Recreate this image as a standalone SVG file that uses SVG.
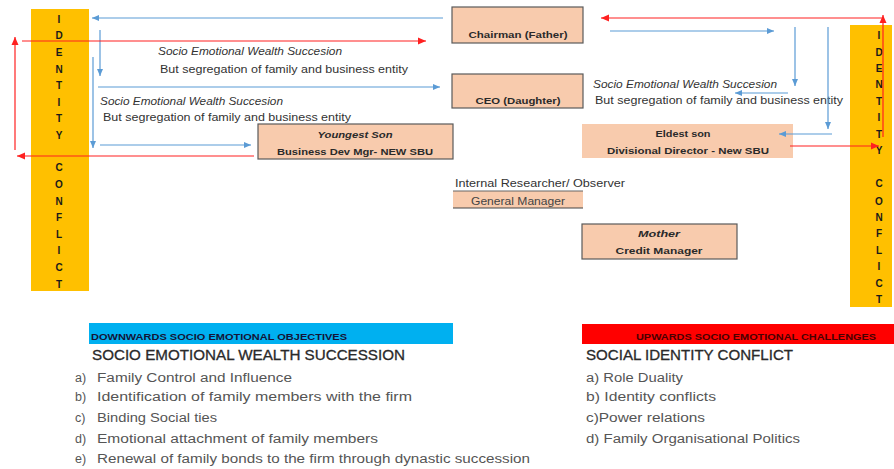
<svg xmlns="http://www.w3.org/2000/svg" width="894" height="469" viewBox="0 0 894 469">
  <defs>
    <marker id="ah-blue" markerWidth="8" markerHeight="8" refX="7" refY="4" orient="auto" markerUnits="userSpaceOnUse">
      <path d="M0,1 L7,4 L0,7 Z" fill="#5B9BD5"/>
    </marker>
    <marker id="ah-red" markerWidth="9" markerHeight="9" refX="8" refY="4.5" orient="auto" markerUnits="userSpaceOnUse">
      <path d="M0,1 L8,4.5 L0,8 Z" fill="#FF2020"/>
    </marker>
  </defs>
  <style>
    text { font-family: "Liberation Sans", Arial, sans-serif; }
    .bar { fill: #FFC000; }
    .letter { font-size: 10px; font-weight: bold; fill: #1a1a1a; text-anchor: middle; }
    .box { fill: #F8CBAD; stroke: #5a5a5a; stroke-width: 1.2; }
    .boxlbl { font-size: 9.5px; font-weight: bold; fill: #2a2a2a; text-anchor: middle; }
    .note { font-size: 10px; fill: #333; }
    .noteI { font-size: 10px; fill: #333; font-style: italic; }
    .blue { stroke: #5B9BD5; stroke-width: 1.2; fill: none; marker-end: url(#ah-blue); }
    .red { stroke: #FF2020; stroke-width: 1.2; fill: none; marker-end: url(#ah-red); }
    .head { font-size: 14.5px; fill: #2a2a2a; stroke: #2a2a2a; stroke-width: 0.3; }
    .item { font-size: 12.5px; fill: #555; }
    .tag { font-size: 8.5px; font-weight: bold; }
  </style>

  <!-- Identity conflict bars -->
  <g id="identity-left">
    <rect class="bar" x="31" y="9" width="58" height="282"/>
    <text class="letter" x="59" y="23">I</text>
    <text class="letter" x="59" y="39">D</text>
    <text class="letter" x="59" y="56">E</text>
    <text class="letter" x="59" y="73">N</text>
    <text class="letter" x="59" y="89">T</text>
    <text class="letter" x="59" y="106">I</text>
    <text class="letter" x="59" y="122">T</text>
    <text class="letter" x="59" y="139">Y</text>
    <text class="letter" x="59" y="171">C</text>
    <text class="letter" x="59" y="188">O</text>
    <text class="letter" x="59" y="205">N</text>
    <text class="letter" x="59" y="221">F</text>
    <text class="letter" x="59" y="238">L</text>
    <text class="letter" x="59" y="254">I</text>
    <text class="letter" x="59" y="271">C</text>
    <text class="letter" x="59" y="288">T</text>
  </g>
  <g id="identity-right">
    <rect class="bar" x="850" y="25" width="42" height="282"/>
    <text class="letter" x="879" y="39">I</text>
    <text class="letter" x="879" y="56">D</text>
    <text class="letter" x="879" y="72">E</text>
    <text class="letter" x="879" y="88">N</text>
    <text class="letter" x="879" y="105">T</text>
    <text class="letter" x="879" y="121">I</text>
    <text class="letter" x="879" y="138">T</text>
    <text class="letter" x="879" y="154">Y</text>
    <text class="letter" x="879" y="187">C</text>
    <text class="letter" x="879" y="205">O</text>
    <text class="letter" x="879" y="221">N</text>
    <text class="letter" x="879" y="237">F</text>
    <text class="letter" x="879" y="254">L</text>
    <text class="letter" x="879" y="270">I</text>
    <text class="letter" x="879" y="287">C</text>
    <text class="letter" x="879" y="303">T</text>
  </g>

  <!-- Role boxes -->
  <g id="chairman">
    <rect class="box" x="452" y="7" width="131" height="36"/>
    <text class="boxlbl" x="518" y="38" textLength="99" lengthAdjust="spacingAndGlyphs">Chairman (Father)</text>
  </g>
  <g id="ceo">
    <rect class="box" x="452" y="74" width="131" height="34"/>
    <text class="boxlbl" x="518" y="104" textLength="85" lengthAdjust="spacingAndGlyphs">CEO (Daughter)</text>
  </g>
  <g id="youngest-son">
    <rect class="box" x="258" y="124" width="195" height="35"/>
    <text class="boxlbl" x="355" y="138" font-style="italic" textLength="75" lengthAdjust="spacingAndGlyphs">Youngest Son</text>
    <text class="boxlbl" x="355" y="155" textLength="156" lengthAdjust="spacingAndGlyphs">Business Dev Mgr- NEW SBU</text>
  </g>
  <g id="eldest-son">
    <rect x="582" y="124" width="211" height="34" fill="#F8CBAD"/>
    <text class="boxlbl" x="683" y="137" textLength="55" lengthAdjust="spacingAndGlyphs">Eldest son</text>
    <text class="boxlbl" x="688" y="154" textLength="162" lengthAdjust="spacingAndGlyphs">Divisional Director - New SBU</text>
  </g>
  <g id="general-manager">
    <text x="455" y="187" font-size="10" fill="#333" textLength="170" lengthAdjust="spacingAndGlyphs">Internal  Researcher/ Observer</text>
    <rect x="453" y="191" width="130" height="17" fill="#F8CBAD"/>
    <line x1="453" y1="191" x2="583" y2="191" stroke="#666" stroke-width="1"/>
    <line x1="453" y1="208" x2="583" y2="208" stroke="#444" stroke-width="1.2"/>
    <text x="518" y="205" font-size="10" fill="#444" text-anchor="middle" textLength="94" lengthAdjust="spacingAndGlyphs">General Manager</text>
  </g>
  <g id="mother">
    <rect class="box" x="582" y="224" width="155" height="35"/>
    <text class="boxlbl" x="659" y="237" font-style="italic" textLength="42" lengthAdjust="spacingAndGlyphs">Mother</text>
    <text class="boxlbl" x="659" y="254" textLength="87" lengthAdjust="spacingAndGlyphs">Credit Manager</text>
  </g>

  <!-- Annotations along the flows -->
  <g id="annotations">
    <text class="noteI" x="158" y="55" textLength="184" lengthAdjust="spacingAndGlyphs">Socio Emotional Wealth Succesion</text>
    <text class="note" x="160" y="73" textLength="248" lengthAdjust="spacingAndGlyphs">But segregation of family and business entity</text>
    <text class="noteI" x="100" y="105" textLength="183" lengthAdjust="spacingAndGlyphs">Socio Emotional Wealth Succesion</text>
    <text class="note" x="103" y="121" textLength="248" lengthAdjust="spacingAndGlyphs">But segregation of family and business entity</text>
    <text class="noteI" x="593" y="88" textLength="184" lengthAdjust="spacingAndGlyphs">Socio Emotional Wealth Succesion</text>
    <text class="note" x="595" y="104" textLength="248" lengthAdjust="spacingAndGlyphs">But segregation of family and business entity</text>
  </g>

  <!-- Connectors -->
  <g id="connectors">
    <!-- left side -->
    <line class="blue" x1="443" y1="18" x2="92" y2="18"/>
    <line class="blue" x1="100" y1="30" x2="100" y2="76"/>
    <line class="blue" x1="98" y1="87" x2="440" y2="87"/>
    <line class="blue" x1="93" y1="57" x2="93" y2="148"/>
    <line class="blue" x1="100" y1="145" x2="251" y2="145"/>
    <line class="red" x1="22" y1="41" x2="426" y2="41"/>
    <line class="red" x1="15" y1="150" x2="15" y2="37"/>
    <line class="red" x1="254" y1="156" x2="17" y2="156"/>
    <!-- right side -->
    <line class="blue" x1="610" y1="31" x2="774" y2="31"/>
    <line class="blue" x1="795" y1="27" x2="795" y2="86"/>
    <line class="blue" x1="828" y1="27" x2="828" y2="129"/>
    <line class="blue" x1="788" y1="93" x2="735" y2="93"/>
    <line class="blue" x1="832" y1="134" x2="779" y2="134"/>
    <line class="red" x1="883" y1="137" x2="883" y2="15"/>
    <line class="red" x1="883" y1="18" x2="601" y2="18"/>
    <line class="red" x1="790" y1="146" x2="879" y2="146"/>
  </g>

  <!-- Objectives and challenges -->
  <g id="objectives">
    <rect x="89" y="323" width="364" height="21" fill="#00B0F0"/>
    <text class="tag" x="91" y="340" fill="#141438" textLength="256" lengthAdjust="spacingAndGlyphs">DOWNWARDS SOCIO EMOTIONAL OBJECTIVES</text>
    <text class="head" x="92" y="360" textLength="313" lengthAdjust="spacingAndGlyphs">SOCIO EMOTIONAL WEALTH SUCCESSION</text>
    <text class="item" x="75" y="382">a)</text>
    <text class="item" x="97" y="382" textLength="195" lengthAdjust="spacingAndGlyphs">Family Control and Influence</text>
    <text class="item" x="75" y="401">b)</text>
    <text class="item" x="97" y="401" textLength="315" lengthAdjust="spacingAndGlyphs">Identification of family members  with the firm</text>
    <text class="item" x="75" y="422">c)</text>
    <text class="item" x="97" y="422" textLength="120" lengthAdjust="spacingAndGlyphs">Binding Social ties</text>
    <text class="item" x="75" y="443">d)</text>
    <text class="item" x="97" y="443" textLength="281" lengthAdjust="spacingAndGlyphs">Emotional attachment of family members</text>
    <text class="item" x="75" y="463">e)</text>
    <text class="item" x="97" y="463" textLength="433" lengthAdjust="spacingAndGlyphs">Renewal of family bonds to the firm through dynastic succession</text>
  </g>
  <g id="challenges">
    <rect x="582" y="324" width="312" height="20" fill="#FF0000"/>
    <text class="tag" x="636" y="340" fill="#4a0000" textLength="240" lengthAdjust="spacingAndGlyphs">UPWARDS SOCIO EMOTIONAL CHALLENGES</text>
    <text class="head" x="586" y="360" textLength="207" lengthAdjust="spacingAndGlyphs">SOCIAL IDENTITY CONFLICT</text>
    <text class="item" x="586" y="382" textLength="97" lengthAdjust="spacingAndGlyphs">a) Role Duality</text>
    <text class="item" x="586" y="401" textLength="130" lengthAdjust="spacingAndGlyphs">b) Identity conflicts</text>
    <text class="item" x="586" y="422" textLength="119" lengthAdjust="spacingAndGlyphs">c)Power relations</text>
    <text class="item" x="586" y="443" textLength="214" lengthAdjust="spacingAndGlyphs">d) Family Organisational Politics</text>
  </g>
</svg>
